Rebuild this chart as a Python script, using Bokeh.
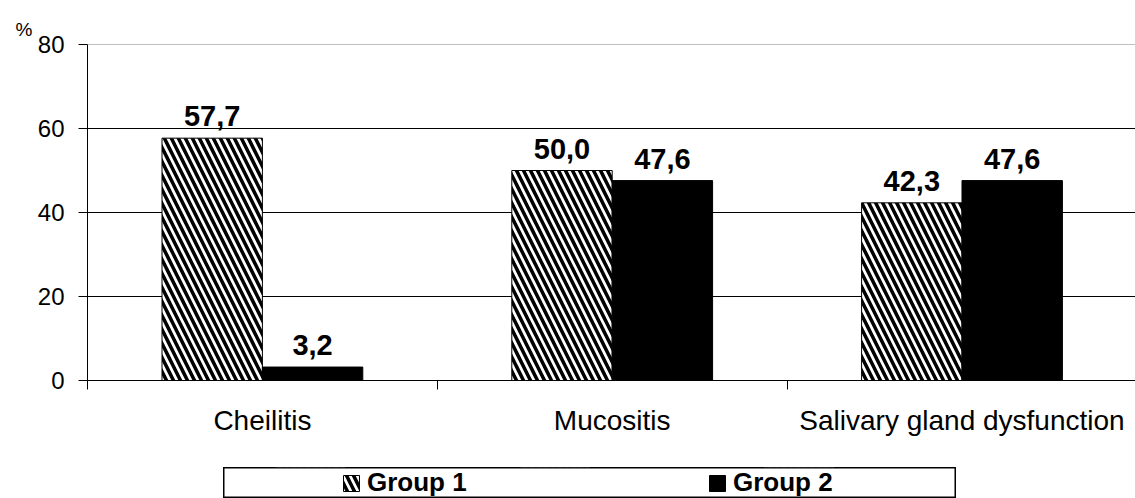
from bokeh.plotting import figure
from bokeh.layouts import column, row
from bokeh.models import (Range1d, FixedTicker, ColumnDataSource, Legend,
                          LegendItem, Span, Spacer)
from bokeh.core.properties import value
from bokeh.embed import file_html
from bokeh.resources import INLINE

# --- data -------------------------------------------------------------
categories = ["Cheilitis", "Mucositis", "Salivary gland dysfunction"]
group1 = [57.7, 50.0, 42.3]
group2 = [3.2, 47.6, 47.6]
series_names = ["Group 1", "Group 2"]
y_ticks = [0, 20, 40, 60, 80]
unit = "%"

FONT = "Liberation Sans"

HATCH = dict(fill_color="white", line_color="black", line_width=1,
             hatch_pattern="left_diagonal_line", hatch_color="black",
             hatch_scale=14, hatch_weight=3.5)
SOLID = dict(fill_color="black", line_color="black", line_width=1)


def fmt(v):
    # decimal comma, one decimal place
    return f"{v:.1f}".replace(".", ",")


bar_w = 0.287
centers = [i + 0.5 for i in range(len(categories))]
bounds = list(range(len(categories) + 1))

src1 = ColumnDataSource(dict(x=[c - bar_w / 2 for c in centers], top=group1,
                             label=[fmt(v) for v in group1]))
src2 = ColumnDataSource(dict(x=[c + bar_w / 2 for c in centers], top=group2,
                             label=[fmt(v) for v in group2]))

p = figure(width=1135, height=467, output_backend="svg", toolbar_location=None,
           x_range=Range1d(0, 2.996), y_range=Range1d(y_ticks[0], y_ticks[-1]),
           min_border_left=87, min_border_right=0, min_border_top=44,
           min_border_bottom=87)
p.outline_line_color = None
p.background_fill_color = "white"
p.border_fill_color = "white"

# unit sign in the top-left corner
p.title.text = unit
p.title.align = "left"
p.title.offset = -72
p.title.standoff = 10
p.title.text_font = FONT
p.title.text_font_size = "19px"
p.title.text_font_style = "normal"
p.title.text_color = "black"

# --- bars -------------------------------------------------------------
p.vbar(x="x", top="top", bottom=0, width=bar_w, source=src1, **HATCH)
p.vbar(x="x", top="top", bottom=0, width=bar_w, source=src2, **SOLID)

for src in (src1, src2):
    p.text(x="x", y="top", text="label", source=src, text_align="center",
           text_baseline="middle", y_offset=-22,
           text_font=value(FONT), text_font_style="bold",
           text_font_size="29px", text_color="black")

# --- axes -------------------------------------------------------------
xa = p.xaxis[0]
xa.ticker = FixedTicker(ticks=centers, minor_ticks=bounds)
xa.major_label_overrides = {c: name for c, name in zip(centers, categories)}
xa.major_tick_out = 0
xa.major_tick_in = 0
xa.minor_tick_out = 9
xa.minor_tick_in = 0
xa.minor_tick_line_color = "black"
xa.axis_line_color = "black"
xa.major_label_standoff = 15
xa.major_label_text_font = FONT
xa.major_label_text_font_size = "28px"
xa.major_label_text_color = "black"

ya = p.yaxis[0]
ya.ticker = FixedTicker(ticks=y_ticks)
ya.major_tick_out = 9
ya.major_tick_in = 0
ya.minor_tick_line_color = None
ya.major_tick_line_color = "black"
ya.axis_line_color = "black"
ya.major_label_standoff = 14
ya.major_label_text_font = FONT
ya.major_label_text_font_size = "24px"
ya.major_label_text_color = "black"

# --- grid -------------------------------------------------------------
p.xgrid.visible = False
p.ygrid.ticker = FixedTicker(ticks=y_ticks[1:-1])
p.ygrid.grid_line_color = "black"
p.ygrid.grid_line_width = 1
p.add_layout(Span(location=y_ticks[-1], dimension="width",
                  line_color="#808080", line_width=1))

# --- legend box under the chart ----------------------------------------
# the key panel shows the same two bar series; its value range lies below
# zero so only the legend swatches are visible
key = figure(width=733, height=31, output_backend="svg", toolbar_location=None,
             x_range=Range1d(0, len(categories)), y_range=Range1d(-2, -1),
             x_axis_location=None, y_axis_location=None,
             min_border=0)
key.grid.visible = False
key.outline_line_color = "black"
key.outline_line_width = 2
key.background_fill_color = "white"
key.border_fill_color = "white"

k1 = key.vbar(x="x", top="top", bottom=0, width=bar_w, source=src1, **HATCH)
k2 = key.vbar(x="x", top="top", bottom=0, width=bar_w, source=src2, **SOLID)

legend = Legend(items=[LegendItem(label=series_names[0], renderers=[k1]),
                       LegendItem(label=series_names[1], renderers=[k2])],
                orientation="horizontal", location=(118, 0),
                padding=0, margin=0, spacing=0,
                glyph_width=20, glyph_height=20, label_width=340,
                label_height=20, label_standoff=6, label_text_font=FONT,
                label_text_font_size="26px", label_text_font_style="bold",
                label_text_color="black",
                border_line_alpha=0, background_fill_alpha=0)
key.add_layout(legend, "center")

layout = column(p, row(Spacer(width=223, height=31), key))

open("out.html", "w").write(file_html(layout, INLINE))
